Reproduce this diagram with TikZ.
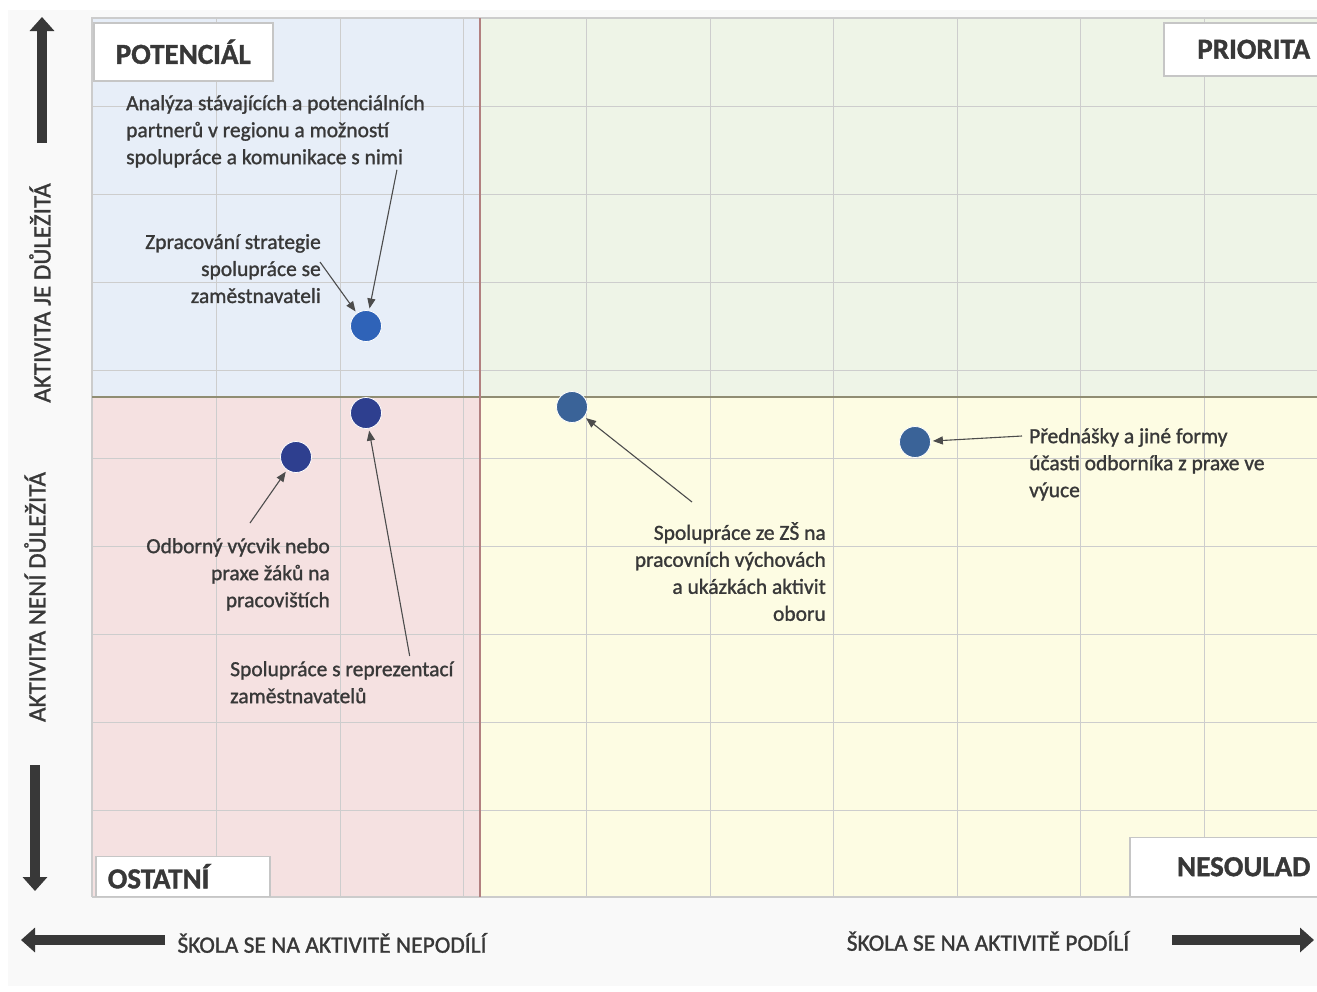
\documentclass[tikz,border=0pt]{standalone}
\usepackage{fontspec}
\setmainfont{Carlito}[FakeBold=1.2]
\usetikzlibrary{arrows.meta,positioning,calc}
\definecolor{txt}{HTML}{383838}
\definecolor{quadblue}{HTML}{E7EEF8}
\definecolor{quadgreen}{HTML}{EEF4E7}
\definecolor{quadpink}{HTML}{F5E1E1}
\definecolor{quadyellow}{HTML}{FDFCE3}
\definecolor{gridgray}{HTML}{CDCDCD}
\definecolor{dotA}{HTML}{2F63B8}
\definecolor{dotB}{HTML}{2E3F8F}
\definecolor{dotC}{HTML}{3A6398}

\begin{document}
\begin{tikzpicture}[
    x=1pt, y=-1pt,
    every node/.style={text=txt},
    qbox/.style={
      rectangle, draw=gray!45, line width=1.5pt, fill=white,
      inner sep=0pt, font=\fontsize{29}{34}\selectfont\bfseries
    },
    note/.style={font=\fontsize{21.5}{27}\selectfont, inner sep=0pt},
    axlabel/.style={font=\fontsize{23.5}{27}\selectfont, inner sep=0pt},
    dot/.style={circle, fill=dotA, draw=white, line width=0.8pt,
      minimum size=31pt, inner sep=0pt},
    arr/.style={-{Triangle[length=10pt, width=8pt]}, line width=1.1pt,
      draw=txt!90, shorten >=2pt},
    bigarr/.style={-{Triangle[length=14pt, width=24pt]}, line width=10pt,
      draw=txt}
  ]
  \useasboundingbox (0,0) rectangle (1317,991);
  \fill[gray!5] (8,10) rectangle (1317,986);

  % Quadrants
  \fill[quadblue]   (92,18)   rectangle (480,397);
  \fill[quadgreen]  (480,18)  rectangle (1320,397);
  \fill[quadpink]   (92,397)  rectangle (480,897);
  \fill[quadyellow] (480,397) rectangle (1320,897);

  % Grid
  \foreach \gx in {216,340,463,586,710,833,957,1080,1204}
    \draw[gridgray, line width=0.8pt] (\gx,18) -- (\gx,897);
  \foreach \gy in {106,194,282,370,458,546,634,722,810}
    \draw[gridgray, line width=0.8pt] (92,\gy) -- (1320,\gy);
  \draw[gray!40, line width=1.5pt] (92,897) -- (92,18) -- (1320,18);
  \draw[gray!40, line width=1.5pt] (92,897) -- (1320,897);

  % Dividers
  \draw[gray!80!olive, line width=2pt] (92,397) -- (1320,397);
  \draw[gray!75!red!80, line width=2pt] (480,18) -- (480,897);

  % Quadrant titles
  \node[qbox, anchor=north west, minimum width=179pt, minimum height=58pt]
    (pot) at (93,22) {POTENCIÁL};
  \node[qbox, anchor=north west, minimum width=180pt, minimum height=53pt]
    (pri) at (1163,22) {PRIORITA};
  \node[qbox, anchor=south west, text width=150pt, inner xsep=12pt,
    minimum height=40pt, align=left] (ost) at (95,897) {OSTATNÍ};
  \node[qbox, anchor=south west, minimum width=228pt, minimum height=59pt]
    (nes) at (1129,897) {NESOULAD};

  % Axis arrows
  \coordinate (upS) at (42,143);   \coordinate (upE) at (42,17);
  \coordinate (dnS) at (35,765);   \coordinate (dnE) at (35,891);
  \coordinate (lfS) at (165,940);  \coordinate (lfE) at (21,940);
  \coordinate (rtS) at (1172,940); \coordinate (rtE) at (1314,940);
  \draw[bigarr] (upS) -- (upE);
  \draw[bigarr] (dnS) -- (dnE);
  \draw[bigarr] (lfS) -- (lfE);
  \draw[bigarr] (rtS) -- (rtE);

  % Axis labels
  \node[axlabel, rotate=90, font=\fontsize{25}{27}\selectfont] (yhi) at (40,293) {AKTIVITA JE DŮLEŽITÁ};
  \node[axlabel, rotate=90, font=\fontsize{25}{27}\selectfont] (ylo) at (35,597) {AKTIVITA NENÍ DŮLEŽITÁ};
  \node[axlabel] (xlo) at (332,943) {ŠKOLA SE NA AKTIVITĚ NEPODÍLÍ};
  \node[axlabel] (xhi) at (988,941) {ŠKOLA SE NA AKTIVITĚ PODÍLÍ};

  % Activities
  \node[dot] (d1) at (366,326) {};
  \node[dot, fill=dotB] (d2) at (366,413) {};
  \node[dot, fill=dotB] (d3) at (296,457) {};
  \node[dot, fill=dotC] (d4) at (572,407) {};
  \node[dot, fill=dotC] (d5) at (915,442) {};

  % Notes
  \node[note, anchor=north west, align=left] (n1) at (126,95)
    {Analýza stávajících a potenciálních\\partnerů v regionu a možností\\spolupráce a komunikace s nimi};
  \node[note, anchor=north east, align=right] (n2) at (321,234)
    {Zpracování strategie\\spolupráce se\\zaměstnavateli};
  \node[note, anchor=north east, align=right] (n3) at (330,538)
    {Odborný výcvik nebo\\praxe žáků na\\pracovištích};
  \node[note, anchor=north west, align=left] (n4) at (230,661)
    {Spolupráce s reprezentací\\zaměstnavatelů};
  \node[note, anchor=north east, align=right] (n5) at (826,522)
    {Spolupráce ze ZŠ na\\pracovních výchovách\\a ukázkách aktivit\\oboru};
  \node[note, anchor=north west, align=left] (n6) at (1029,428)
    {Přednášky a jiné formy\\účasti odborníka z praxe ve\\výuce};

  % Arrows
  \draw[arr] ($(n1.south east)+(-28,2)$) -- (d1);
  \draw[arr] ($(n2.north east)+(-1,28)$) -- (d1);
  \draw[arr] ($(n3.north east)+(-80,-15)$) -- (d3);
  \draw[arr] ($(n4.north east)+(-44,-5)$) -- (d2);
  \draw[arr] ($(n5.north east)+(-134,-20)$) -- (d4);
  \draw[arr] ($(n6.north west)+(-7,8)$) -- (d5);

\end{tikzpicture}
\end{document}
